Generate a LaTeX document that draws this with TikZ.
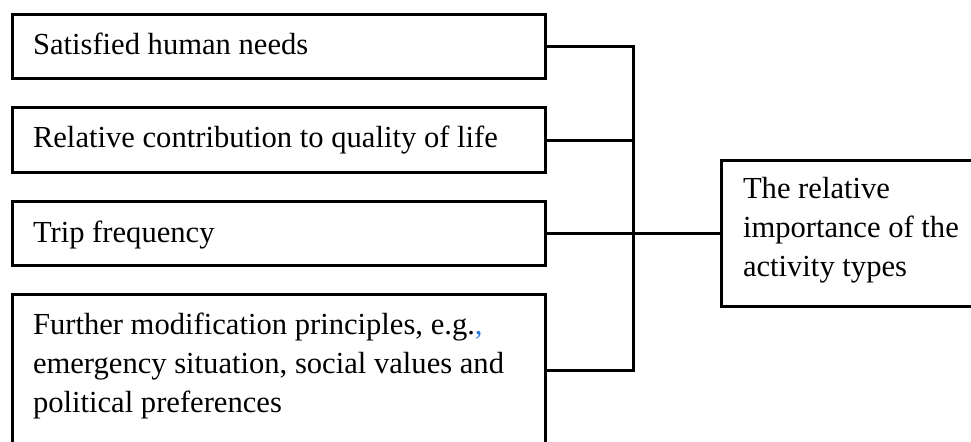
\documentclass[tikz,border=0pt]{standalone}
\usepackage{fontspec}
\setmainfont{Liberation Serif}
\definecolor{linkblue}{RGB}{40,120,220}
\begin{document}
\begin{tikzpicture}[x=0.5pt,y=-0.5pt,
  box/.style={draw=black, line width=1.5pt, inner sep=0pt, outer sep=0pt, anchor=north west, fill=none},
  lbl/.style={inner sep=0pt, outer sep=0pt, anchor=base west, font=\fontsize{15.3}{19.5}\selectfont, text=black},
  conn/.style={draw=black, line width=1.5pt}]
\useasboundingbox (0,0) rectangle (971,442);
\clip (0,0) rectangle (971,442);
% left boxes
\node[box, minimum width=266.5pt, minimum height=32pt] (b1) at (12.5,15) {};
\node[box, minimum width=266.5pt, minimum height=32.5pt] (b2) at (12.5,108) {};
\node[box, minimum width=266.5pt, minimum height=32pt] (b3) at (12.5,202) {};
\node[box, minimum width=266.5pt, minimum height=76pt] (b4) at (12.5,295) {};
% right box
\node[box, minimum width=140pt, minimum height=73pt] (r) at (721,161) {};
% labels
\node[lbl] (t1) at (33,55) {Satisfied human needs};
\node[lbl] (t2) at (33,148) {Relative contribution to quality of life};
\node[lbl] (t3) at (33,243) {Trip frequency};
\node[lbl] (t4) at (33,335) {\parbox[t]{250pt}{\raggedright Further modification principles, e.g.\textcolor{linkblue}{,}\\emergency situation, social values and\\political preferences}};
\node[lbl] (t5) at (743,199) {\parbox[t]{120pt}{\raggedright The relative\\importance of the\\activity types}};
% connectors
\coordinate (bt) at (633,47);
\coordinate (bb) at (633,371);
\draw[conn] (b1.east) -- (bt) -- (bb) -- (b4.east);
\draw[conn] (b2.east) -- (b2.east -| bt);
\draw[conn] (b3.east) -- (r.west);
\end{tikzpicture}
\end{document}
